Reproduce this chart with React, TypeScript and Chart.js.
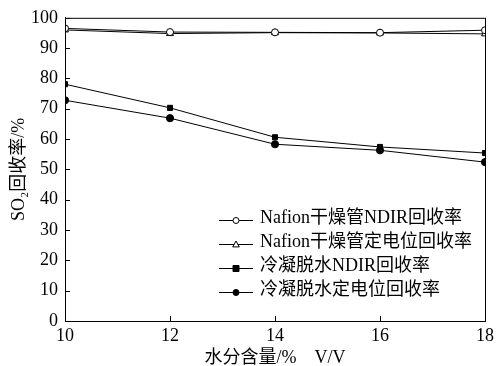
import React, { useEffect, useRef } from "react";
import { Chart, registerables } from "chart.js";

Chart.register(...registerables);

const waterContent = [10, 12, 14, 16, 18];
const nafionNdir = [96.5, 95.3, 95.2, 95.1, 95.9];
const nafionEchem = [96.0, 94.8, 95.1, 95.0, 94.7];
const condNdir = [78.1, 70.3, 60.6, 57.4, 55.4];
const condEchem = [72.8, 66.9, 58.3, 56.3, 52.4];
const seriesLabels = [
  "Nafion干燥管NDIR回收率",
  "Nafion干燥管定电位回收率",
  "冷凝脱水NDIR回收率",
  "冷凝脱水定电位回收率",
];
const xTitle = "水分含量/%    V/V";
const yTitle = "SO₂回收率/%";

const FONT = "'Liberation Serif', 'Times New Roman', 'Noto Sans CJK SC', serif";

const frameAndLegend = {
  id: "frameAndLegend",
  afterDraw(chart: any) {
    const { ctx, chartArea: a, scales } = chart;
    ctx.save();
    ctx.strokeStyle = "#000";
    ctx.lineWidth = 1;
    ctx.strokeRect(a.left + 0.5, a.top + 0.5, a.right - a.left, a.bottom - a.top);
    // inward ticks
    const tl = 5;
    scales.x.ticks.forEach((t: any) => {
      const px = Math.round(scales.x.getPixelForValue(t.value)) + 0.5;
      ctx.beginPath();
      ctx.moveTo(px, a.bottom);
      ctx.lineTo(px, a.bottom - tl);
      ctx.stroke();
    });
    scales.y.ticks.forEach((t: any) => {
      const py = Math.round(scales.y.getPixelForValue(t.value)) + 0.5;
      ctx.beginPath();
      ctx.moveTo(a.left, py);
      ctx.lineTo(a.left + tl, py);
      ctx.stroke();
    });
    // legend
    const x0 = 219;
    const x1 = 253;
    const rows = [220, 244, 268, 292];
    chart.data.datasets.forEach((ds: any, i: number) => {
      const y = rows[i] + 0.5;
      ctx.strokeStyle = "#000";
      ctx.lineWidth = 1;
      ctx.beginPath();
      ctx.moveTo(x0, y);
      ctx.lineTo(x1, y);
      ctx.stroke();
      const mx = 236;
      const r = 3;
      ctx.fillStyle = ds.pointBackgroundColor;
      ctx.beginPath();
      if (ds.pointStyle === "circle") {
        ctx.arc(mx, y, r, 0, Math.PI * 2);
      } else if (ds.pointStyle === "rect") {
        ctx.rect(mx - r, y - r, 2 * r, 2 * r);
      } else {
        ctx.moveTo(mx, y - r - 0.5);
        ctx.lineTo(mx + r * 1.1, y + r * 0.8);
        ctx.lineTo(mx - r * 1.1, y + r * 0.8);
        ctx.closePath();
      }
      ctx.fill();
      ctx.stroke();
      ctx.fillStyle = "#000";
      ctx.font = "18px " + FONT;
      ctx.textBaseline = "middle";
      ctx.textAlign = "left";
      ctx.fillText(ds.label, 260, y - 2);
    });
    ctx.restore();
  },
};

export default function App() {
  const ref = useRef<HTMLCanvasElement>(null);
  useEffect(() => {
    document.body.style.margin = "0";
    const mk = (label: string, data: number[], style: string, fill: string, r: number) => ({
      label,
      data: waterContent.map((x, i) => ({ x, y: data[i] })),
      borderColor: "#000",
      borderWidth: 1,
      pointStyle: style,
      pointRadius: r,
      pointBackgroundColor: fill,
      pointBorderColor: "#000",
      pointBorderWidth: 1,
      tension: 0,
      fill: false,
    });
    const chart = new Chart(ref.current!, {
      type: "line",
      data: {
        datasets: [
          mk(seriesLabels[0], nafionNdir, "circle", "#fff", 3.5),
          mk(seriesLabels[1], nafionEchem, "triangle", "#fff", 4),
          mk(seriesLabels[2], condNdir, "rect", "#000", 3.6),
          mk(seriesLabels[3], condEchem, "circle", "#000", 3.6),
        ] as any,
      },
      options: {
        animation: false,
        responsive: false,
        maintainAspectRatio: false,
        layout: { padding: { top: 17, right: 9, left: 0, bottom: 0 } },
        plugins: { legend: { display: false }, tooltip: { enabled: false } },
        scales: {
          x: {
            type: "linear",
            min: 10,
            max: 18,
            ticks: {
              stepSize: 2,
              color: "#000",
              font: { family: FONT, size: 18 },
              padding: 4,
              maxRotation: 0,
            },
            grid: { display: false, drawTicks: false },
            border: { display: true, color: "#000" },
            title: {
              display: true,
              text: xTitle,
              color: "#000",
              font: { family: FONT, size: 18 },
              padding: { top: 0, bottom: -3 },
            },
            afterFit: (s: any) => {
              s.height = 45;
            },
          },
          y: {
            type: "linear",
            min: 0,
            max: 100,
            ticks: {
              stepSize: 10,
              color: "#000",
              font: { family: FONT, size: 18 },
              padding: 7,
            },
            grid: { display: false, drawTicks: false },
            border: { display: true, color: "#000" },
            title: {
              display: true,
              text: yTitle,
              color: "#000",
              font: { family: FONT, size: 18 },
              padding: { top: 8, bottom: 0 },
            },
            afterFit: (s: any) => {
              s.width = 65;
            },
          },
        },
      } as any,
      plugins: [frameAndLegend],
    });
    return () => chart.destroy();
  }, []);
  return (
    <div style={{ width: 498, height: 366, background: "#fff" }}>
      <canvas ref={ref} width={498} height={366} />
    </div>
  );
}
